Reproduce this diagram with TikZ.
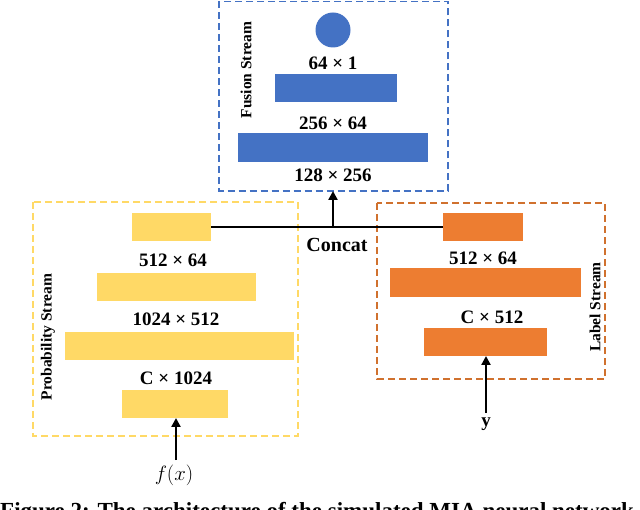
\documentclass[tikz,border=0pt]{standalone}
\usepackage{fontspec}
\setmainfont{Liberation Serif}
\usetikzlibrary{arrows.meta}
\definecolor{fblue}{HTML}{4472C4}
\definecolor{pyellow}{HTML}{FFD966}
\definecolor{lorange}{HTML}{ED7D31}
\definecolor{lorangedk}{HTML}{D0712E}
\tikzset{
  x=1pt, y=-1pt,
  layer/.style={draw=none, inner sep=0pt, outer sep=0pt},
  brect/.style={layer, fill=fblue},
  yrect/.style={layer, fill=pyellow},
  orect/.style={layer, fill=lorange},
  dim/.style={font=\fontsize{19}{19}\selectfont\bfseries, inner sep=0pt},
  stream/.style={font=\fontsize{15.5}{15.5}\selectfont\bfseries, rotate=90, inner sep=0pt},
  frame/.style={dashed, line width=1.4pt, dash pattern=on 7pt off 4pt},
  conn/.style={line width=2.8pt},
  arr/.style={line width=2.8pt, -{Triangle[length=9pt, width=9pt]}},
}
\begin{document}
\begin{tikzpicture}
\useasboundingbox (0,0) rectangle (640,510);
% frames
\draw[frame, draw=fblue] (219,1.5) rectangle (448,191);
\draw[frame, draw=pyellow] (33,202) rectangle (298,436);
\draw[frame, draw=lorangedk] (377,203) rectangle (605,379);
\coordinate (fbot) at (333,191);
% fusion stream
\node[layer, circle, fill=fblue, minimum size=35] (c1) at (333,30) {};
\node[dim] (t64x1) at (333,63) {64 × 1};
\node[brect, minimum width=122, minimum height=28] (f1) at (336,88) {};
\node[dim] (t256x64) at (333,123) {256 × 64};
\node[brect, minimum width=190, minimum height=29] (f2) at (333,147.5) {};
\node[dim] (t128x256) at (333,175) {128 × 256};
\node[stream] (fs) at (246,70) {Fusion Stream};
% probability stream
\node[yrect, minimum width=79, minimum height=28] (pa) at (171.5,227) {};
\node[dim] (tp1) at (173,260) {512 × 64};
\node[yrect, minimum width=159, minimum height=28] (pb) at (176.5,287) {};
\node[dim] (tp2) at (176,319) {1024 × 512};
\node[yrect, minimum width=229, minimum height=28] (pc) at (179.5,346) {};
\node[dim] (tp3) at (176,378) {C × 1024};
\node[yrect, minimum width=106, minimum height=28] (pd) at (175,404) {};
\node[stream] (ps) at (48,337) {Probability Stream};
% label stream
\node[orect, minimum width=80, minimum height=28] (la) at (483,227) {};
\node[dim] (tl1) at (483,258) {512 × 64};
\node[orect, minimum width=191, minimum height=29] (lb) at (485.5,282.5) {};
\node[dim] (tl2) at (492,317) {C × 512};
\node[orect, minimum width=123, minimum height=28] (lc) at (485.5,342) {};
\node[stream] (ls) at (595,307) {Label Stream};
% concat
\coordinate (cj) at (333,227);
\draw[conn] (pa.east) -- (la.west);
\draw[arr] (cj) -- (fbot);
\node[dim, font=\fontsize{20}{20}\selectfont\bfseries] (concat) at (337,245) {Concat};
% inputs
\node[inner sep=0pt, font=\fontsize{22}{22}\selectfont] (fx) at (174,475) {$f(x)$};
\node[dim] (yy) at (486,424) {y};
\coordinate (fxa) at (176,460);
\coordinate (ya) at (486,413);
\draw[arr] (fxa) -- (pd.south -| fxa);
\draw[arr] (ya) -- (lc.south -| ya);
% caption (cut off at the lower edge, as in the reference)
\node[anchor=base west, inner sep=0pt, font=\fontsize{23}{23}\selectfont\bfseries] (cap) at (0,518) {Figure 2: The architecture of the simulated MIA neural network};
\end{tikzpicture}
\end{document}
